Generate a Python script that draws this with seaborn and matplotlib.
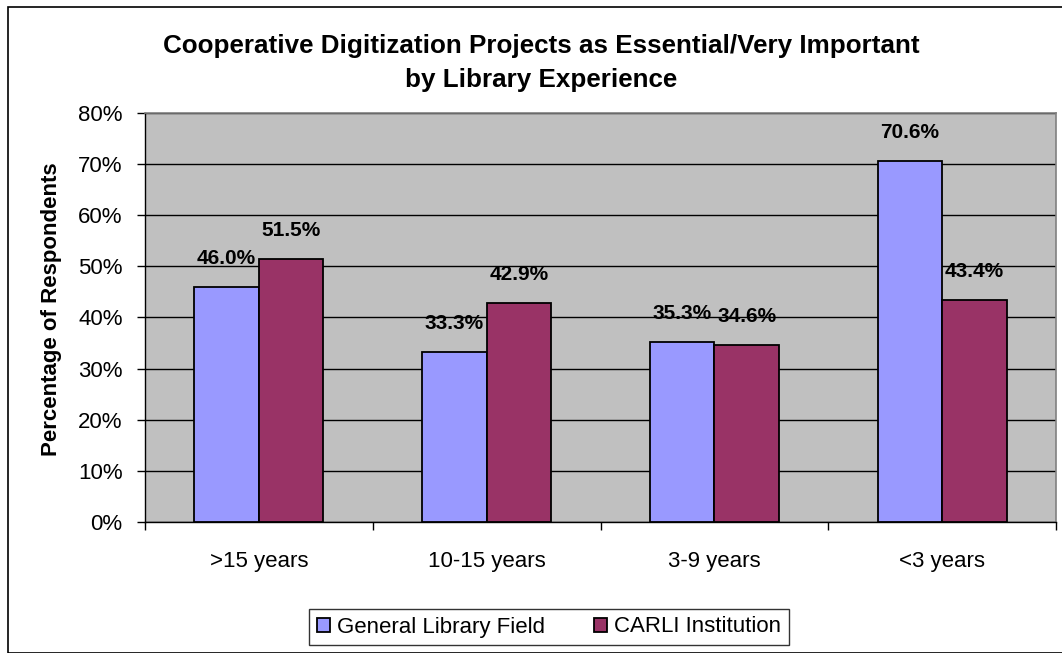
import matplotlib
matplotlib.use("Agg")
import matplotlib.pyplot as plt
import seaborn as sns
import pandas as pd
from matplotlib.patches import Rectangle
from matplotlib.ticker import FixedLocator

# data
categories = [">15 years", "10-15 years", "3-9 years", "<3 years"]
general_field = [46.0, 33.3, 35.3, 70.6]
carli_inst = [51.5, 42.9, 34.6, 43.4]
series_names = ["General Library Field", "CARLI Institution"]
colors = ["#9999FF", "#993366"]
title_lines = ["Cooperative Digitization Projects as Essential/Very Important",
               "by Library Experience"]

df = pd.DataFrame({
    "cat": categories * 2,
    "val": general_field + carli_inst,
    "series": [series_names[0]] * 4 + [series_names[1]] * 4,
})

sns.set_theme(style="white")
plt.rcParams["font.family"] = ["Liberation Sans", "DejaVu Sans"]
plt.rcParams["text.color"] = "black"
plt.rcParams["axes.labelcolor"] = "black"
plt.rcParams["xtick.color"] = "black"
plt.rcParams["ytick.color"] = "black"

fig = plt.figure(figsize=(10.62, 6.53), dpi=100)
ax = fig.add_axes([0.1365, 0.2006, 0.8579, 0.6264])
ax.set_facecolor("#C0C0C0")

sns.barplot(data=df, x="cat", y="val", hue="series", palette=colors,
            saturation=1, width=0.567, edgecolor="black", linewidth=1.3,
            ax=ax, legend=True, zorder=3)

ax.set_ylim(0, 80)
ax.set_xlim(-0.5, 3.5)
ax.set_yticks(range(0, 81, 10))
ax.set_yticklabels([f"{v}%" for v in range(0, 81, 10)], fontsize=16)
ax.yaxis.grid(True, color="black", linewidth=1.0, zorder=0)
ax.set_axisbelow(True)

ax.set_xticks(range(4))
ax.set_xticklabels(categories, fontsize=16)
ax.xaxis.set_minor_locator(FixedLocator([-0.5, 0.5, 1.5, 2.5, 3.5]))
ax.tick_params(axis="x", which="major", length=0, pad=21)
ax.tick_params(axis="x", which="minor", length=6, width=1, color="black",
               direction="out", bottom=True)
ax.tick_params(axis="y", length=6, width=1, color="black", direction="out",
               left=True, pad=10)
ax.set_xlabel("")
ax.set_ylabel("Percentage of Respondents", fontsize=16, fontweight="bold")
ax.yaxis.set_label_coords(-0.0915, 0.52)

for s in ["top", "right"]:
    ax.spines[s].set_color("#808080")
    ax.spines[s].set_linewidth(1.2)
for s in ["left", "bottom"]:
    ax.spines[s].set_color("black")
    ax.spines[s].set_linewidth(1.0)

for cont in ax.containers:
    ax.bar_label(cont, labels=[f"{v:.1f}%" for v in cont.datavalues],
                 fontsize=15, fontweight="bold", padding=13.5, color="black")

# two title lines placed on their baselines
title_x = 541 / 1062
fig.text(title_x, 1 - 53 / 653, title_lines[0], ha="center", va="baseline",
         fontsize=18.7, fontweight="bold")
fig.text(title_x, 1 - 87 / 653, title_lines[1], ha="center", va="baseline",
         fontsize=18.7, fontweight="bold")

handles, labels = ax.get_legend_handles_labels()
leg = ax.legend(handles, labels, ncol=2, loc="center",
                bbox_to_anchor=(549 / 1062, 1 - 627 / 653),
                bbox_transform=fig.transFigure, fontsize=16, frameon=True,
                fancybox=False, edgecolor="black", handlelength=0.6,
                handleheight=0.6, handletextpad=0.3, columnspacing=2.2,
                borderpad=0.35)
leg.get_frame().set_linewidth(1.0)
for t in leg.get_texts():
    t.set_color("black")

fig.patches.append(Rectangle((8 / 1062, 0), 1.1, 1 - 7 / 653,
                             transform=fig.transFigure, fill=False,
                             edgecolor="black", linewidth=1.2))

fig.savefig("out.png", dpi=100)
